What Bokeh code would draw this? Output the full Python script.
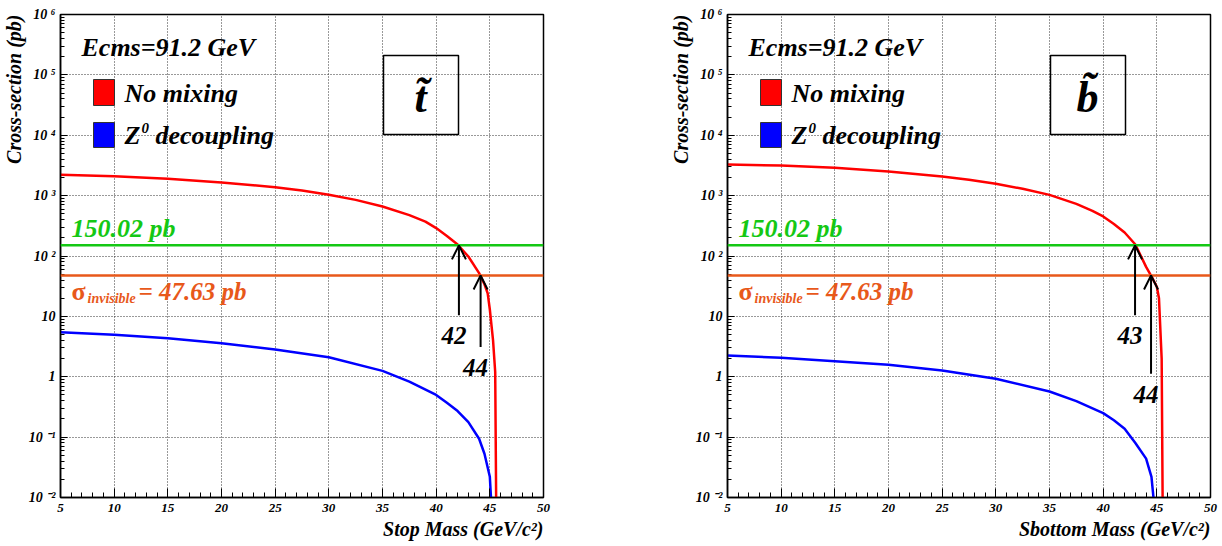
from bokeh.plotting import figure
from bokeh.layouts import row
from bokeh.models import (Range1d, FixedTicker, Span, Arrow, OpenHead, Label, Title,
                          BoxAnnotation, ColumnDataSource, LabelSet)
from bokeh.embed import file_html
from bokeh.resources import INLINE

# ---------------- data ----------------
stop_mass_nomix = [5, 10, 15, 20, 25, 27.5, 30, 32.5, 35, 37.5, 39, 40, 41, 42, 43, 44,
                   44.5, 44.8, 45.0, 45.3, 45.5, 45.6]
stop_xs_nomix = [2213, 2097, 1897, 1648, 1380, 1216, 1031, 851, 660, 475, 370, 290, 215, 155,
                 98, 52, 34, 24, 13, 4.0, 1.2, 0.005]
stop_mass_z0 = [5, 10, 15, 20, 25, 30, 35, 37.5, 40, 41, 42, 43, 44, 44.5, 45.0, 45.2]
stop_xs_z0 = [5.47, 4.95, 4.35, 3.6, 2.83, 2.1, 1.25, 0.83, 0.50, 0.37, 0.27, 0.177, 0.094,
              0.053, 0.022, 0.005]

sbot_mass_nomix = [5, 10, 15, 20, 25, 27.5, 30, 32.5, 35, 37.5, 39, 40, 41, 42, 43, 44,
                   44.5, 45.0, 45.2, 45.45, 45.55]
sbot_xs_nomix = [3280, 3155, 2885, 2510, 2075, 1828, 1570, 1297, 1030, 731, 560, 452, 340, 245,
                 155, 66, 46, 31, 20, 2.0, 0.005]
sbot_mass_z0 = [5, 10, 15, 20, 25, 30, 35, 37.5, 40, 41, 42, 43, 44, 44.5, 44.85]
sbot_xs_z0 = [2.25, 2.06, 1.81, 1.58, 1.27, 0.925, 0.57, 0.394, 0.25, 0.19, 0.138, 0.08, 0.044,
              0.022, 0.005]

level_total = 150.02       # green line
level_invisible = 47.63    # orange line

stop_arrow_mass = [42.12, 44.14]
stop_arrow_tail = [10.4, 3.1]
stop_arrow_head = [level_total, level_invisible]
stop_arrow_text = ["42", "44"]

sbot_arrow_mass = [42.97, 44.46]
sbot_arrow_tail = [10.4, 1.12]
sbot_arrow_head = [level_total, level_invisible]
sbot_arrow_text = ["43", "44"]

x_major = [5, 10, 15, 20, 25, 30, 35, 40, 45, 50]
x_minor = list(range(5, 51))
y_major = [0.01, 0.1, 1, 10, 100, 1000, 10000, 100000, 1000000]
y_labels = ["10 \u207b\u00b2", "10 \u207b\u00b9", "1", "10", "10 \u00b2", "10 \u00b3",
            "10 \u2074", "10 \u2075", "10 \u2076"]
y_minor = [k * d for d in [0.01, 0.1, 1, 10, 100, 1000, 10000, 100000] for k in range(2, 10)]

# ---------------- style ----------------
SERIF = "Liberation Serif"
RED = "#ff0000"
BLUE = "#0000ff"
GREEN = "#14c814"
ORANGE = "#e8581a"
HEIGHT = 544


def txt(**kw):
    base = dict(text_font=SERIF, text_font_style="bold italic", text_color="black",
                text_baseline="middle")
    base.update(kw)
    return Label(**base)


def make_panel(width, border_left, border_right, xlabel, symbol,
               m_nomix, xs_nomix, m_z0, xs_z0, a_mass, a_tail, a_head, a_text):
    p = figure(width=width, height=HEIGHT, x_range=Range1d(5, 50), y_range=Range1d(0.01, 1e6),
               y_axis_type="log", output_backend="svg", toolbar_location=None,
               min_border_left=border_left, min_border_right=border_right,
               min_border_top=14, min_border_bottom=47)
    p.outline_line_color = "black"
    p.outline_line_width = 1.5
    p.background_fill_color = "white"

    xa = p.xaxis[0]
    ya = p.yaxis[0]
    xa.ticker = FixedTicker(ticks=x_major, minor_ticks=x_minor)
    ya.ticker = FixedTicker(ticks=y_major, minor_ticks=y_minor)
    ya.major_label_overrides = {v: t for v, t in zip(y_major, y_labels)}
    for ax in (xa, ya):
        ax.axis_line_color = "black"
        ax.axis_line_width = 1.5
        ax.major_tick_out = 0
        ax.minor_tick_out = 0
        ax.major_tick_line_color = "black"
        ax.minor_tick_line_color = "black"
        ax.major_label_text_font = SERIF
        ax.major_label_text_font_style = "bold italic"
        ax.major_label_text_font_size = "13px"
        ax.major_label_text_color = "black"
    ya.major_label_text_font_size = "14px"
    xa.major_tick_in = 9
    xa.minor_tick_in = 5
    ya.major_tick_in = 7
    ya.minor_tick_in = 4
    xa.major_label_standoff = 6
    ya.major_label_standoff = 5

    # axis titles, flush with the end of each axis (ROOT style)
    p.add_layout(Title(text=xlabel, align="right", text_font=SERIF,
                       text_font_style="bold italic", text_font_size="20px",
                       text_color="black", standoff=2, offset=0), "below")
    p.add_layout(Title(text="Cross-section (pb)", align="right", text_font=SERIF,
                       text_font_style="bold italic", text_font_size="20px",
                       text_color="black", standoff=1, offset=0), "left")

    p.grid.grid_line_color = "#333333"
    p.grid.grid_line_dash = "1 2"
    p.grid.grid_line_width = 1

    # horizontal reference levels
    p.add_layout(Span(location=level_total, dimension="width", line_color=GREEN, line_width=2.5))
    p.add_layout(Span(location=level_invisible, dimension="width", line_color=ORANGE, line_width=2.5))

    # curves
    p.line(m_z0, xs_z0, line_color=BLUE, line_width=2.5)
    p.line(m_nomix, xs_nomix, line_color=RED, line_width=2.5)

    # arrows and their labels
    src = ColumnDataSource(dict(m=a_mass, tail=a_tail, head=a_head, text=a_text))
    p.add_layout(Arrow(source=src, x_start="m", y_start="tail", x_end="m", y_end="head",
                       line_width=2, line_color="black",
                       end=OpenHead(size=14, line_width=2, line_color="black")))
    p.add_layout(LabelSet(source=src, x="m", y="tail", text="text", x_offset=-5, y_offset=-12,
                          text_align="center", text_baseline="top", text_font=SERIF,
                          text_font_style="bold italic", text_font_size="25px",
                          text_color="black"))

    # level labels
    p.add_layout(txt(x=11, x_units="screen", y=level_total, y_offset=17, text="150.02 pb",
                     text_font_size="26px", text_color=GREEN))
    p.add_layout(txt(x=11, x_units="screen", y=level_invisible, y_offset=-16, text="\u03c3",
                     text_font_style="bold", text_font_size="26px", text_color=ORANGE))
    p.add_layout(txt(x=27, x_units="screen", y=level_invisible, y_offset=-23.5, text="invisible",
                     text_font_size="14px", text_color=ORANGE))
    p.add_layout(txt(x=78, x_units="screen", y=level_invisible, y_offset=-16.5,
                     text="= 47.63 pb", text_font_size="25px", text_color=ORANGE))

    # header and legend
    p.add_layout(txt(x=21, y=450, x_units="screen", y_units="screen", text="Ecms=91.2 GeV",
                     text_font_size="26px"))
    for (bot, top, col) in [(392, 418, RED), (350, 375, BLUE)]:
        p.add_layout(BoxAnnotation(left=33, right=54, bottom=bot, top=top,
                                   left_units="screen", right_units="screen",
                                   bottom_units="screen", top_units="screen",
                                   fill_color=col, fill_alpha=1.0, line_color="#333333",
                                   line_alpha=1.0, line_width=1))
    p.add_layout(txt(x=64, y=404, x_units="screen", y_units="screen", text="No mixing",
                     text_font_size="26px"))
    p.add_layout(txt(x=64, y=362, x_units="screen", y_units="screen", text="Z",
                     text_font_size="26px"))
    p.add_layout(txt(x=81, y=370, x_units="screen", y_units="screen", text="0",
                     text_font_size="15px"))
    p.add_layout(txt(x=95, y=362, x_units="screen", y_units="screen", text="decoupling",
                     text_font_size="26px"))

    # particle symbol box
    p.add_layout(BoxAnnotation(left=323, right=398, bottom=363, top=442,
                               left_units="screen", right_units="screen",
                               bottom_units="screen", top_units="screen",
                               fill_alpha=0.0, line_color="black", line_alpha=1.0,
                               line_width=1.5))
    p.add_layout(txt(x=360, y=400, x_units="screen", y_units="screen", text=symbol,
                     text_align="center", text_font_size="44px"))
    return p


p1 = make_panel(635, 59, 92, "Stop Mass (GeV/c\u00b2)", "t\u0303",
                stop_mass_nomix, stop_xs_nomix, stop_mass_z0, stop_xs_z0,
                stop_arrow_mass, stop_arrow_tail, stop_arrow_head, stop_arrow_text)
p2 = make_panel(587, 92, 12, "Sbottom Mass (GeV/c\u00b2)", "b\u0303",
                sbot_mass_nomix, sbot_xs_nomix, sbot_mass_z0, sbot_xs_z0,
                sbot_arrow_mass, sbot_arrow_tail, sbot_arrow_head, sbot_arrow_text)

layout = row(p1, p2)
open("out.html", "w").write(file_html(layout, INLINE))
